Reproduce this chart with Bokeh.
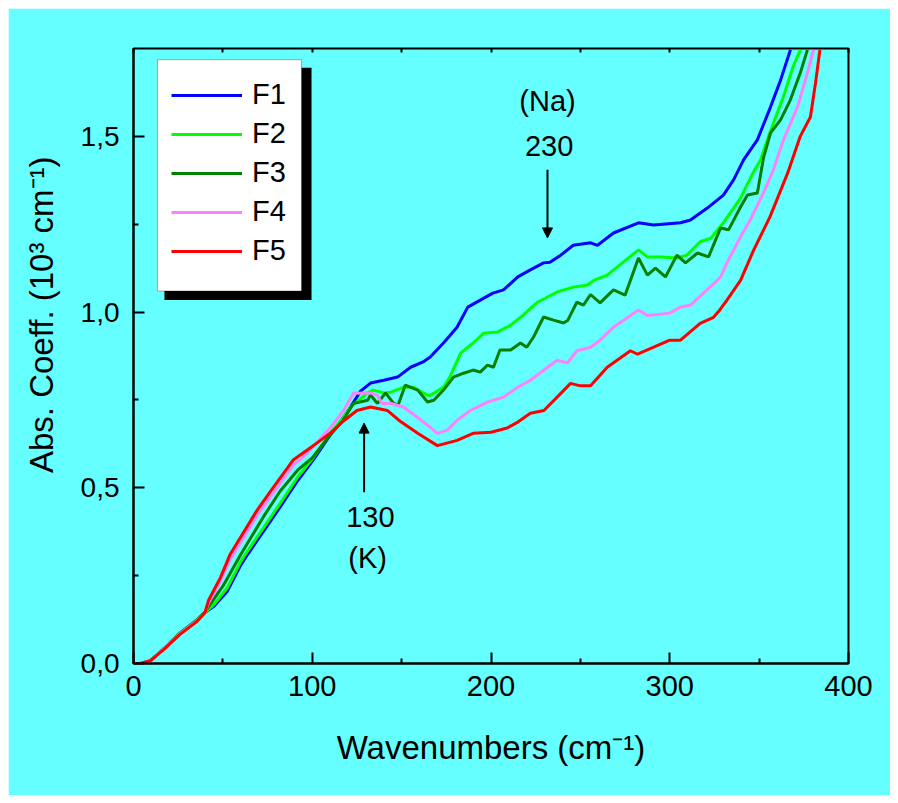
from bokeh.plotting import figure
from bokeh.models import (Legend, LegendItem, BoxAnnotation, Arrow, NormalHead, Label,
                          FixedTicker, CustomJSTickFormatter, LinearAxis, Range1d)
from bokeh.embed import file_html
from bokeh.resources import INLINE

BG = "#66FFFF"
FONT = "Liberation Sans"

series_names = ["F1", "F2", "F3", "F4", "F5"]
series_colors = ["#0000FF", "#00FF00", "#008000", "#FF80FF", "#FF0000"]

f1_x = [0, 4, 9.5, 17, 26, 35.6, 40, 45, 52.4, 60, 63.8, 73, 82, 91.8, 100.7, 110, 117.5, 121.4, 127, 132.6,
        140, 147.7, 155, 162, 166, 173.4, 181, 187, 194, 201, 207, 215, 222, 229.4, 233, 239, 246, 255.7, 259.6, 268.5,
        282.5, 291, 306, 311.6, 321, 330, 335.7, 341.3, 349, 356.4, 362, 367.5]
f1_y = [0, 0, 0.008, 0.042, 0.085, 0.122, 0.145, 0.163, 0.205, 0.28, 0.31, 0.378, 0.445, 0.52, 0.58, 0.65, 0.70, 0.73, 0.775, 0.798,
        0.806, 0.815, 0.843, 0.858, 0.872, 0.912, 0.957, 1.014, 1.034, 1.054, 1.063, 1.1, 1.12, 1.14, 1.142, 1.162, 1.19, 1.197, 1.19, 1.225,
        1.254, 1.248, 1.254, 1.262, 1.296, 1.333, 1.376, 1.433, 1.49, 1.584, 1.66, 1.746]

f2_x = [0, 4, 9.5, 17, 26, 35.6, 40, 45, 52.4, 60, 63.8, 73, 82, 91.8, 100.7, 110, 117.5, 121.4, 131, 134,
        140, 144, 151, 156.6, 164.5, 166, 173.4, 177, 183, 190, 196, 203.6, 211, 218, 226, 237, 246, 254, 257.5, 265,
        274, 282.5, 287.5, 295, 304, 309.6, 317, 323, 330, 339.6, 343, 347, 350.8, 356, 363.6, 369, 373]
f2_y = [0, 0, 0.008, 0.042, 0.085, 0.122, 0.145, 0.168, 0.215, 0.29, 0.32, 0.388, 0.455, 0.53, 0.587, 0.655, 0.70, 0.73, 0.77, 0.778,
        0.77, 0.772, 0.786, 0.786, 0.763, 0.763, 0.786, 0.815, 0.883, 0.912, 0.94, 0.943, 0.963, 0.991, 1.028, 1.057, 1.071, 1.077, 1.09, 1.105,
        1.142, 1.177, 1.157, 1.157, 1.154, 1.162, 1.2, 1.21, 1.254, 1.324, 1.36, 1.40, 1.433, 1.51, 1.613, 1.698, 1.746]

f3_x = [0, 4, 9.5, 17, 26, 35.6, 40, 42, 50, 60, 73, 82, 91.8, 100, 110, 117, 123, 131, 132.6, 136.5,
        141, 145.5, 148, 152, 159, 164.5, 168, 173.4, 179, 184.6, 190, 194, 198, 201.4, 205, 211, 216.5, 220, 223.8, 229.4,
        235, 240.6, 243, 248, 251.7, 255.7, 261, 268.5, 275, 282.5, 287.5, 292, 297.6, 304, 308.8, 315.5, 321.7, 328.4, 332.9, 339.6,
        343.5, 349, 352.5, 356.4, 362, 367.5, 373, 377]
f3_y = [0, 0, 0.008, 0.042, 0.087, 0.125, 0.147, 0.162, 0.22, 0.31, 0.42, 0.49, 0.55, 0.585, 0.65, 0.69, 0.74, 0.749, 0.764, 0.74,
        0.77, 0.74, 0.735, 0.792, 0.778, 0.744, 0.749, 0.778, 0.815, 0.826, 0.835, 0.829, 0.849, 0.843, 0.892, 0.892, 0.912, 0.90, 0.929, 0.986,
        0.977, 0.969, 0.977, 1.028, 1.02, 1.05, 1.026, 1.063, 1.048, 1.154, 1.105, 1.125, 1.10, 1.162, 1.14, 1.168, 1.157, 1.239, 1.234, 1.299,
        1.333, 1.339, 1.44, 1.51, 1.547, 1.604, 1.68, 1.746]

f4_x = [0, 4, 9.5, 17, 26, 35.6, 40, 42, 48.7, 54, 60, 69, 76.6, 89.5, 97, 104.6, 110, 117.5, 123, 132.6,
        136.5, 139, 144, 151, 159, 166, 170, 175.6, 181, 188.5, 198, 207, 215, 222, 229.6, 237, 242.8, 248, 255.7, 261,
        268.5, 282.5, 287.5, 300, 306, 311.6, 324.5, 328.4, 332, 339.6, 345, 352.5, 358, 363.6, 371.5, 377, 380.4]
f4_y = [0, 0, 0.008, 0.042, 0.085, 0.122, 0.145, 0.172, 0.235, 0.295, 0.345, 0.42, 0.475, 0.565, 0.598, 0.64, 0.67, 0.72, 0.769, 0.77,
        0.763, 0.74, 0.74, 0.73, 0.70, 0.672, 0.655, 0.664, 0.692, 0.72, 0.744, 0.758, 0.786, 0.806, 0.835, 0.863, 0.855, 0.89, 0.90, 0.92,
        0.957, 1.006, 0.99, 0.997, 1.014, 1.02, 1.08, 1.10, 1.14, 1.214, 1.262, 1.34, 1.405, 1.49, 1.584, 1.68, 1.746]

f5_x = [0, 4, 9.5, 17, 26, 35.6, 40, 42, 48.7, 54, 60, 69, 76.6, 89.5, 97, 104.6, 110, 117.5, 125, 132.6,
        142, 149, 159, 170, 181, 190, 200, 209, 215, 222, 229.6, 237, 244.5, 250, 255.7, 265, 278, 282, 291, 300,
        306, 317, 324.5, 328, 332, 339.6, 347, 356, 366, 373, 378.7, 381.5, 384]
f5_y = [0, 0, 0.008, 0.04, 0.083, 0.12, 0.145, 0.18, 0.245, 0.31, 0.36, 0.435, 0.49, 0.58, 0.607, 0.635, 0.655, 0.69, 0.72, 0.73,
        0.72, 0.69, 0.655, 0.62, 0.635, 0.655, 0.658, 0.67, 0.687, 0.712, 0.72, 0.758, 0.797, 0.79, 0.79, 0.843, 0.89, 0.88, 0.90, 0.92,
        0.92, 0.968, 0.985, 1.006, 1.034, 1.09, 1.177, 1.27, 1.396, 1.5, 1.555, 1.65, 1.746]

xs = [f1_x, f2_x, f3_x, f4_x, f5_x]
ys = [f1_y, f2_y, f3_y, f4_y, f5_y]

x_major = [0, 100, 200, 300, 400]
x_minor = [50, 150, 250, 350]
top_ticks = [0, 50, 100, 150, 200, 250, 300, 350, 400]
y_major = [0, 0.5, 1.0, 1.5]
y_minor = [0.25, 0.75, 1.25]

annotations = [  # (x, y of text, text)
    (231.6, 1.601, "(Na)"),
    (232.5, 1.473, "230"),
    (132.5, 0.416, "130"),
    (131.0, 0.299, "(K)"),
]
arrows = [  # (x, y_start, y_end)
    (231.6, 1.405, 1.211),
    (129.0, 0.487, 0.684),
]

p = figure(width=882, height=787, x_range=Range1d(0, 400), y_range=Range1d(0, 1.75),
           output_backend="svg", toolbar_location=None,
           min_border_left=125, min_border_right=42, min_border_top=40, min_border_bottom=132,
           background_fill_color=BG, border_fill_color=BG)
p.margin = (8, 8, 8, 8)
p.grid.visible = False
p.outline_line_color = "black"
p.outline_line_width = 2

renderers = []
for x, y, c in zip(xs, ys, series_colors):
    r = p.line(x, y, line_color=c, line_width=3)
    renderers.append(r)

xa = p.xaxis[0]
ya = p.yaxis[0]
xa.ticker = FixedTicker(ticks=x_major, minor_ticks=x_minor)
ya.ticker = FixedTicker(ticks=y_major, minor_ticks=y_minor)
ya.formatter = CustomJSTickFormatter(code="return tick.toFixed(1).replace('.', ',');")
for ax in (xa, ya):
    ax.axis_line_width = 2
    ax.major_tick_in = 11
    ax.major_tick_out = 0
    ax.minor_tick_in = 5
    ax.minor_tick_out = 0
    ax.major_tick_line_width = 2
    ax.minor_tick_line_width = 2
    ax.major_label_text_font = FONT
    ax.major_label_text_color = "black"
    ax.axis_label_text_font = FONT
    ax.axis_label_text_font_style = "normal"
    ax.axis_label_text_color = "black"
xa.major_label_text_font_size = "29px"
ya.major_label_text_font_size = "28px"
xa.major_label_standoff = 12
ya.major_label_standoff = 14
xa.axis_label = "Wavenumbers (cm\u207b\u00b9)"
# leading no-break spaces move the title up from the frame centre, as in the original
ya.axis_label = "\u00a0" * 9 + "Abs. Coeff. (10\u00b3 cm\u207b\u00b9)"
xa.axis_label_text_font_size = "33px"
ya.axis_label_text_font_size = "33px"
xa.axis_label_standoff = 30
ya.axis_label_standoff = 18

top = LinearAxis(ticker=FixedTicker(ticks=top_ticks, minor_ticks=[]),
                 formatter=CustomJSTickFormatter(code="return '';"),
                 major_tick_in=4, major_tick_out=0,
                 major_tick_line_width=2, axis_line_color=None, minor_tick_line_color=None,
                 major_label_standoff=0)
p.add_layout(top, "above")

# legend box with shadow
shadow = BoxAnnotation(left=17.3, right=99.6, top=1.695, bottom=1.034,
                       fill_color="black", fill_alpha=1, line_color=None)
box = BoxAnnotation(left=13.4, right=94.0, top=1.718, bottom=1.06,
                    fill_color="white", fill_alpha=1, line_color="black", line_width=1)
p.add_layout(shadow)
p.add_layout(box)

items = [LegendItem(label=n, renderers=[r]) for n, r in zip(series_names, renderers)]
legend = Legend(items=items, location=(38, 396), padding=0, margin=0, spacing=6,
                glyph_height=30, glyph_width=71, label_height=30, label_standoff=10,
                label_text_font=FONT, label_text_font_size="29px", label_text_color="black",
                background_fill_alpha=0, border_line_color=None)
p.add_layout(legend, "center")

for x, y, t in annotations:
    p.add_layout(Label(x=x, y=y, text=t, text_align="center", text_baseline="middle",
                       text_font=FONT, text_font_size="29px", text_color="black"))
for x, y0, y1 in arrows:
    p.add_layout(Arrow(x_start=x, y_start=y0, x_end=x, y_end=y1, line_width=2, line_color="black",
                       end=NormalHead(size=10, fill_color="black", line_color="black")))

open("out.html", "w").write(file_html(p, INLINE))
